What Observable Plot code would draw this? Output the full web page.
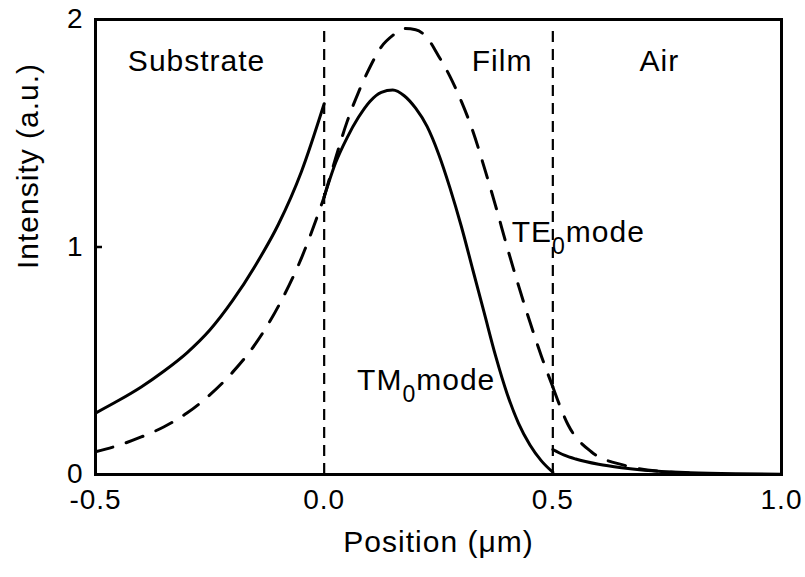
<!DOCTYPE html>
<html><head><meta charset="utf-8">
<script src="https://cdn.jsdelivr.net/npm/d3@7"></script>
<script src="https://cdn.jsdelivr.net/npm/@observablehq/plot@0.6"></script>
<style>
html,body{margin:0;padding:0;background:#fff;}
#chart svg text{letter-spacing:1px;}
</style></head><body><div id="chart"></div>
<script>
// TM0 mode (solid line), split into substrate / film / air segments
const tmX = [-0.5,-0.45,-0.4,-0.35,-0.3,-0.25,-0.2,-0.15,-0.1,-0.05,0,
             0,0.025,0.05,0.075,0.1,0.125,0.15,0.175,0.2,0.225,0.25,0.275,0.3,0.325,0.35,0.375,0.4,0.425,0.45,0.475,0.5,
             0.5,0.525,0.55,0.6,0.65,0.7,0.8,0.9,1.0];
const tmY = [0.27,0.325,0.385,0.455,0.535,0.635,0.765,0.92,1.10,1.33,1.63,
             1.22,1.37,1.48,1.57,1.64,1.68,1.69,1.665,1.61,1.53,1.41,1.26,1.09,0.90,0.71,0.52,0.355,0.225,0.13,0.06,0.01,
             0.11,0.085,0.068,0.045,0.03,0.019,0.008,0.003,0.001];
const tmRegion = [..."sssssssssss", ..."fffffffffffffffffffff", ..."aaaaaaaaa"];

// TE0 mode (dashed line)
const teX = [-0.5,-0.45,-0.4,-0.35,-0.3,-0.25,-0.2,-0.15,-0.1,-0.05,0,
             0,0.025,0.05,0.075,0.1,0.125,0.15,0.175,0.2,0.225,0.25,0.275,0.3,0.325,0.35,0.375,0.4,0.425,0.45,0.475,0.5,
             0.5,0.533,0.584,0.657,0.73,0.85];
const teY = [0.10,0.128,0.165,0.21,0.27,0.35,0.45,0.575,0.74,0.95,1.22,
             1.22,1.39,1.55,1.68,1.79,1.88,1.93,1.96,1.955,1.92,1.84,1.75,1.64,1.51,1.35,1.18,1.00,0.83,0.67,0.52,0.385,
             0.385,0.22,0.10,0.04,0.015,0.003];
const teRegion = [..."sssssssssss", ..."fffffffffffffffffffff", ..."aaaaaa"];

// Interfaces (substrate/film, film/air)
const interfaceX = [0, 0.5];
const interfaceTop = [1.95, 1.95];

// Axis ticks and labels
const xTicks = [-0.5, 0, 0.5, 1.0];
const yTicks = [0, 1, 2];
const yInnerTicks = [1];
const xLabel = "Position (μm)";
const yLabel = "Intensity (a.u.)";

// Annotations
const regionNames = ["Substrate", "Film", "Air"];
const regionX = [-0.279, 0.389, 0.733];
const regionY = [1.815, 1.815, 1.815];
const modeNames = ["TE_0mode", "TM_0mode"];
const modeX = [0.41, 0.072];
const modeY = [1.066, 0.412];

const tm = tmX.map((x, i) => ({x, y: tmY[i], region: tmRegion[i]}));
const te = teX.map((x, i) => ({x, y: teY[i], region: teRegion[i]}));

const W = 805, H = 577, ML = 95, MR = 24, MT = 19, MB = 103;
const innerTick = 7;

const plot = Plot.plot({
  width: W, height: H,
  marginLeft: ML, marginRight: MR, marginTop: MT, marginBottom: MB,
  style: {fontFamily: "'Liberation Sans', Arial, Helvetica, sans-serif", color: "#000", background: "#fff"},
  x: {domain: [-0.5, 1.0]},
  y: {domain: [0, 2]},
  marks: [
    Plot.ruleX(interfaceX, {x: d => d, y1: 0, y2: (d, i) => interfaceTop[i], stroke: "#000", strokeWidth: 2.2, strokeDasharray: "11,7"}),
    Plot.line(tm, {x: "x", y: "y", z: "region", curve: "monotone-x", stroke: "#000", strokeWidth: 3}),
    Plot.line(te, {x: "x", y: "y", z: "region", curve: "monotone-x", stroke: "#000", strokeWidth: 3, strokeDasharray: "18,14"}),
    Plot.tickY(yInnerTicks, {y: d => d, insetRight: W - ML - MR - innerTick, stroke: "#000", strokeWidth: 2.5}),
    Plot.frame({stroke: "#000", strokeWidth: 3}),
    Plot.axisX(xTicks, {tickSize: 0, tickPadding: 15, tickFormat: d => d.toFixed(1), fontSize: 28, label: null}),
    Plot.axisY(yTicks, {tickSize: 0, tickPadding: 12, tickFormat: d => String(d), fontSize: 28, label: null}),
    Plot.text([xLabel], {frameAnchor: "bottom", dy: 77, fontSize: 30, fill: "#000"}),
    Plot.text([yLabel], {frameAnchor: "left", rotate: -90, dx: -67, dy: 22, fontSize: 30, fill: "#000"}),
    Plot.text(regionNames, {x: regionX, y: regionY, text: d => d, fontSize: 30, fill: "#000"}),
    Plot.text(modeNames, {x: modeX, y: modeY, text: d => d, textAnchor: "start", fontSize: 30, fill: "#000"})
  ]
});

// render subscripts (e.g. "TE_0mode" -> TE with subscript 0, as real tspans)
d3.select(plot).selectAll("text").each(function() {
  const t = this.textContent;
  const m = /^(\w+?)_(\d)(\w+)$/.exec(t);
  if (m) {
    const sel = d3.select(this);
    sel.text(null);
    sel.append("tspan").text(m[1]);
    sel.append("tspan").attr("dy", 12).attr("font-size", 23).text(m[2]);
    sel.append("tspan").attr("dy", -12).text(m[3]);
  }
});

document.getElementById("chart").appendChild(plot);
</script>
</body></html>
